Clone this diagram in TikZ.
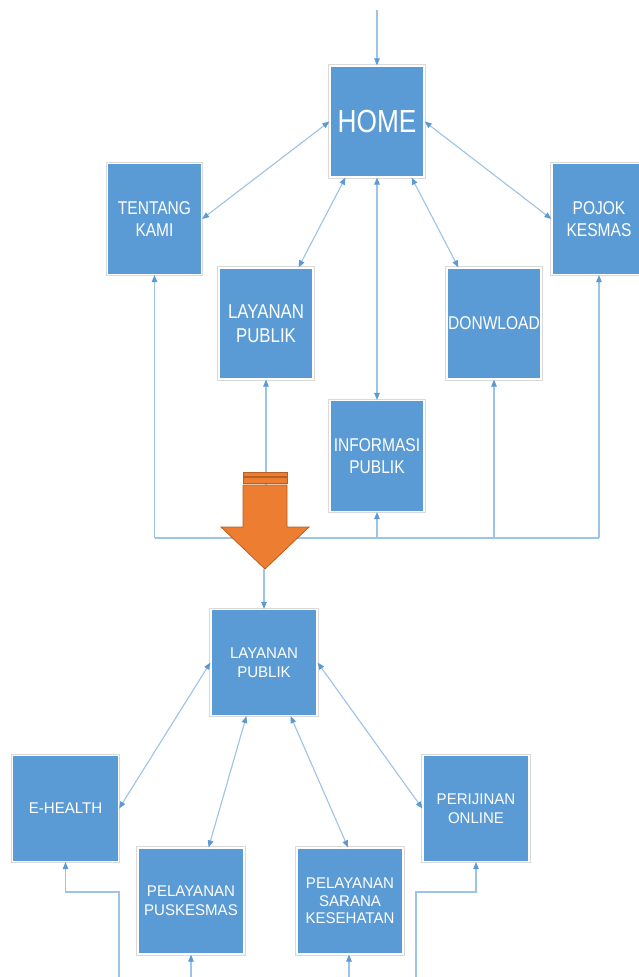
\documentclass[tikz,border=0pt]{standalone}
\usepackage{fontspec}
\setmainfont{Liberation Sans}
\newfontfamily\topfont[FakeStretch=0.84]{Liberation Sans}
\newfontfamily\homefont[FakeStretch=0.82]{Liberation Sans}
\newfontfamily\botfont[FakeStretch=0.97]{Liberation Sans}
\usetikzlibrary{arrows.meta,calc}
\definecolor{boxblue}{HTML}{5B9BD5}
\definecolor{linkblue}{HTML}{9DC3E6}
\definecolor{orangefill}{HTML}{ED7D31}
\definecolor{orangeedge}{HTML}{B85F24}
\tikzset{
  box/.style={rectangle, fill=boxblue, draw=white, line width=1.2pt,
    preaction={draw=black!15, line width=3.2pt}, text=white, align=center, inner sep=0pt},
  topbox/.style={box, minimum width=94pt, minimum height=111pt,
    font=\topfont\fontsize{18.5}{21.5}\selectfont},
  botbox/.style={box, minimum width=106pt, minimum height=106pt,
    font=\botfont\fontsize{15.5}{19}\selectfont},
  link/.style={draw=linkblue, line width=1.1pt},
  uni/.style={link, -{Triangle[length=7pt,width=5.5pt,color=boxblue]}},
  bi/.style={link, {Triangle[length=7pt,width=5.5pt,color=boxblue]}-{Triangle[length=7pt,width=5.5pt,color=boxblue]}},
  bigarrow/.style={fill=orangefill, draw=orangeedge, line width=0.8pt, line join=miter}
}
\begin{document}
\begin{tikzpicture}[x=1pt,y=-1pt]
\useasboundingbox (0,0) rectangle (639,977);
\clip (0,0) rectangle (639,977);
\fill[white] (0,0) rectangle (639,977);

% ---- top level boxes
\node[topbox, font=\homefont\fontsize{32}{36}\selectfont] (HOME) at (377,121.5) {HOME};
\node[topbox] (TK) at (154.5,219) {TENTANG\\KAMI};
\node[topbox] (PK) at (599,219) {POJOK\\KESMAS};
\node[topbox, font=\topfont\fontsize{20}{24}\selectfont] (LP) at (266,323.5) {LAYANAN\\PUBLIK};
\node[topbox] (DL) at (494,323.5) {DONWLOAD};
\node[topbox] (IP) at (377,456) {INFORMASI\\PUBLIK};

% ---- bottom level boxes
\node[botbox] (LP2) at (264,662.5) {LAYANAN\\PUBLIK};
\node[botbox] (EH) at (65.5,808.5) {E-HEALTH};
\node[botbox] (PO) at (476,808.5) {PERIJINAN\\ONLINE};
\node[botbox] (PP) at (191,901) {PELAYANAN\\PUSKESMAS};
\node[botbox, font=\botfont\fontsize{15.5}{17.5}\selectfont] (PS) at (350,901) {PELAYANAN\\SARANA\\KESEHATAN};

% ---- coordinates
\coordinate (start) at (377,10);
\coordinate (bus) at (0,538);
\coordinate (tip) at (265,569);
\coordinate (knee) at (0,892);
\coordinate (ehIn) at (119,977);
\coordinate (poIn) at (416,977);
\coordinate (ppIn) at (191,977);
\coordinate (psIn) at (349,977);

% ---- top connectors
\draw[uni] (start) -- (HOME.north);
\draw[bi] (HOME.west) -- (TK.east);
\draw[bi] (HOME.east) -- (PK.west);
\draw[bi] ([xshift=16pt]HOME.south west) -- ([xshift=-15pt]LP.north east);
\draw[bi] ([xshift=-13pt]HOME.south east) -- ([xshift=12pt]DL.north west);
\draw[bi] (HOME.south) -- (IP.north);

\draw[link] (TK.south |- bus) -- (PK.south |- bus);
\draw[uni] (TK.south |- bus) -- (TK.south);
\draw[uni] (LP.south |- bus) -- (LP.south);
\draw[uni] (IP.south |- bus) -- (IP.south);
\draw[uni] (DL.south |- bus) -- (DL.south);
\draw[uni] (PK.south |- bus) -- (PK.south);

% ---- big orange arrow
\draw[bigarrow] (243,472) rectangle (287,476);
\draw[bigarrow] (243,477.5) rectangle (287,483.5);
\draw[bigarrow] (243,485) -- (287,485) -- (287,527) -- (309,527) -- (265,569)
  -- (221,527) -- (243,527) -- cycle;

\draw[uni] (LP2.north |- tip) -- (LP2.north);

% ---- bottom connectors
\draw[bi] (LP2.west) -- (EH.east);
\draw[bi] (LP2.east) -- (PO.west);
\draw[bi] ([xshift=36pt]LP2.south west) -- ([xshift=-36pt]PP.north east);
\draw[bi] ([xshift=-27pt]LP2.south east) -- ([xshift=-2pt]PS.north);

\draw[uni] (ehIn) -- (ehIn |- knee) -| (EH.south);
\draw[uni] (poIn) -- (poIn |- knee) -| (PO.south);
\draw[uni] (ppIn) -- (PP.south);
\draw[uni] (psIn) -- (psIn |- PS.south);
\end{tikzpicture}
\end{document}
